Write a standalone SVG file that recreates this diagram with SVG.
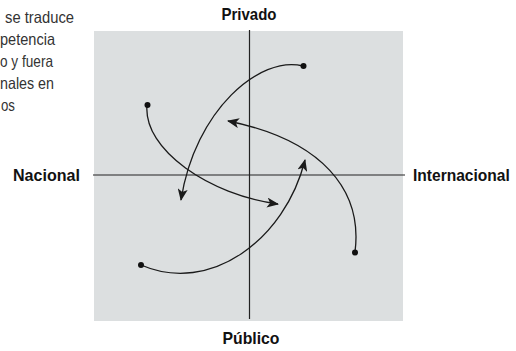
<svg xmlns="http://www.w3.org/2000/svg" width="516" height="351" viewBox="0 0 516 351">
<style>
.body{font-family:"Liberation Sans",Arial,sans-serif;font-size:16.5px;fill:#333}
.lbl{font-family:"Liberation Sans",Arial,sans-serif;font-size:17px;font-weight:bold;fill:#111}
.ax{stroke:#222;stroke-width:1.2;fill:none}
.cv{stroke:#1a1a1a;stroke-width:1.3;fill:none;marker-end:url(#ah)}
.dot{fill:#111}
</style>
<defs>
<marker id="ah" viewBox="0 0 12 10" refX="11" refY="5" markerWidth="12" markerHeight="10" markerUnits="userSpaceOnUse" orient="auto">
<path d="M0,0 L12,5 L0,10 L3,5 z" fill="#1a1a1a"/>
</marker>
</defs>
<g id="caption">
<text class="body" x="5" y="23" textLength="69" lengthAdjust="spacingAndGlyphs">se traduce</text>
<text class="body" x="0" y="45" textLength="55" lengthAdjust="spacingAndGlyphs">petencia</text>
<text class="body" x="0" y="67" textLength="53" lengthAdjust="spacingAndGlyphs">o y fuera</text>
<text class="body" x="0" y="89" textLength="54" lengthAdjust="spacingAndGlyphs">nales en</text>
<text class="body" x="1" y="111" textLength="14" lengthAdjust="spacingAndGlyphs">os</text>
</g>
<g id="plane">
<rect x="94" y="31" width="309" height="290" fill="#dcdfe0"/>
</g>
<g id="axes">
<line class="ax" x1="249.5" y1="30" x2="249.5" y2="319"/>
<line class="ax" x1="93" y1="175" x2="405" y2="175"/>
</g>
<g id="label-privado"><text class="lbl" x="249" y="20" text-anchor="middle" textLength="55" lengthAdjust="spacingAndGlyphs">Privado</text></g>
<g id="label-publico"><text class="lbl" x="251" y="344" text-anchor="middle" textLength="57" lengthAdjust="spacingAndGlyphs">Público</text></g>
<g id="label-nacional"><text class="lbl" x="13" y="181" textLength="67" lengthAdjust="spacingAndGlyphs">Nacional</text></g>
<g id="label-internacional"><text class="lbl" transform="translate(413,181) scale(0.915,1)" x="0" y="0">Internacional</text></g>
<g id="connectors">
<path class="cv" d="M303,66 C260,55 195,110 181,200"/>
<path class="cv" d="M147,105 C143,150 210,195 278,204"/>
<path class="cv" d="M355,252 C363,190 322,140 228,121"/>
<path class="cv" d="M141,265 C210,295 285,240 305,160"/>
</g>
<g id="dots">
<circle class="dot" cx="303.5" cy="66" r="3"/>
<circle class="dot" cx="147.5" cy="105" r="3"/>
<circle class="dot" cx="355" cy="252.5" r="3"/>
<circle class="dot" cx="141" cy="265" r="3"/>
</g>
</svg>
